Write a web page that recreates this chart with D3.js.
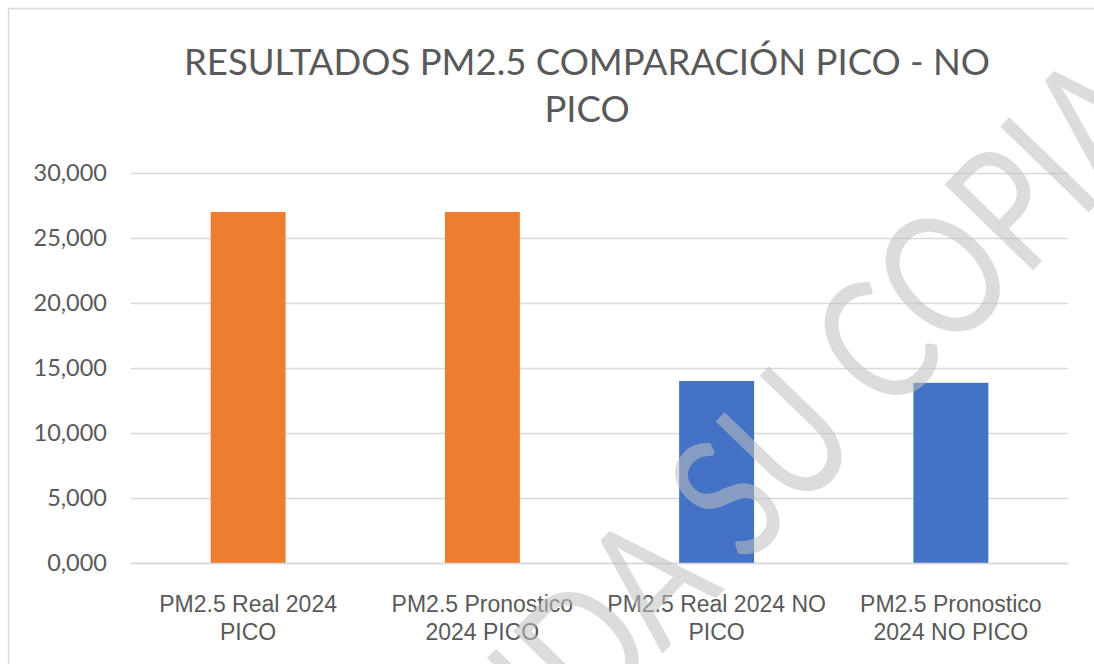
<!DOCTYPE html>
<html>
<head>
<meta charset="utf-8">
<script src="https://cdn.jsdelivr.net/npm/d3@7"></script>
<style>
  body { margin: 0; background: #fff; }
  svg { display: block; font-family: Lato, "Open Sans", sans-serif; }
</style>
</head>
<body>
<svg width="1094" height="664"></svg>
<script>
// datos
const categorias = ["PM2.5 Real 2024 PICO", "PM2.5 Pronostico 2024 PICO", "PM2.5 Real 2024 NO PICO", "PM2.5 Pronostico 2024 NO PICO"];
const etiquetas = [["PM2.5 Real 2024", "PICO"], ["PM2.5 Pronostico", "2024 PICO"], ["PM2.5 Real 2024 NO", "PICO"], ["PM2.5 Pronostico", "2024 NO PICO"]];
const valores = [27.0, 27.0, 14.0, 13.86];
const colores = ["#ED7D31", "#ED7D31", "#4472C4", "#4472C4"];
const ticksY = [0, 5, 10, 15, 20, 25, 30];
const titulo = ["RESULTADOS PM2.5 COMPARACIÓN PICO - NO", "PICO"];
const marcaAgua = "VALIDA SU COPIA";

const svg = d3.select("svg");
const margin = { top: 173, right: 26, bottom: 101, left: 131 };
const width = 1094, height = 664;
const innerWidth = width - margin.left - margin.right;
const innerHeight = height - margin.top - margin.bottom;

// formato con coma decimal
const es = d3.formatLocale({ decimal: ",", thousands: ".", grouping: [3], currency: ["$", ""] });
const fmt = es.format(".3f");

// marco
svg.append("rect")
    .attr("x", 8.5).attr("y", 8.5)
    .attr("width", 1200).attr("height", 800)
    .attr("fill", "none")
    .attr("stroke", "#d9d9d9")
    .attr("stroke-width", 1.5);

// titulo
svg.append("text")
    .attr("x", 587)
    .attr("y", 75)
    .attr("text-anchor", "middle")
    .style("font-size", "36.5px")
    .style("fill", "#595959")
    .selectAll("tspan")
    .data(titulo)
    .join("tspan")
    .attr("x", 587)
    .attr("dy", (d, i) => i === 0 ? 0 : 47)
    .text(d => d);

const x = d3.scaleBand()
    .domain(categorias)
    .range([0, innerWidth])
    .paddingInner(0.68)
    .paddingOuter(0.34);

const y = d3.scaleLinear()
    .domain([0, 30])
    .range([innerHeight, 0]);

const g = svg.append("g")
    .attr("transform", `translate(${margin.left}, ${margin.top})`);

// eje y con lineas de cuadricula
const ejeY = g.append("g")
    .call(d3.axisLeft(y).tickValues(ticksY).tickFormat(fmt).tickSize(-innerWidth).tickPadding(24));
ejeY.select(".domain").remove();
ejeY.selectAll(".tick line").attr("stroke", "#d9d9d9").attr("stroke-width", 1.5);
ejeY.selectAll(".tick text")
    .style("font-family", "Lato, 'Open Sans', sans-serif")
    .style("font-size", "23.5px")
    .style("fill", "#595959");

// barras
g.selectAll("rect.barra")
    .data(valores)
    .join("rect")
    .attr("class", "barra")
    .attr("x", (d, i) => x(categorias[i]))
    .attr("y", d => y(d))
    .attr("width", x.bandwidth())
    .attr("height", d => innerHeight - y(d))
    .attr("fill", (d, i) => colores[i]);

// eje x
const ejeX = g.append("g")
    .attr("transform", `translate(0, ${innerHeight})`)
    .call(d3.axisBottom(x).tickSize(0).tickFormat(""));
ejeX.select(".domain").attr("stroke", "#d9d9d9").attr("stroke-width", 1.5);

categorias.forEach((c, i) => {
  const t = ejeX.append("text")
      .attr("text-anchor", "middle")
      .style("font-size", "23px")
      .style("fill", "#595959");
  etiquetas[i].forEach((linea, j) => {
    t.append("tspan")
        .attr("x", x(c) + x.bandwidth() / 2)
        .attr("y", 49 + j * 28)
        .text(linea);
  });
});

// marca de agua
svg.append("text")
    .attr("transform", "translate(736, 482) rotate(-46) scale(0.78, 1)")
    .attr("text-anchor", "middle")
    .attr("dominant-baseline", "central")
    .style("font-size", "172px")
    .style("fill", "#bfbfbf")
    .style("fill-opacity", 0.55)
    .text(marcaAgua);
</script>
</body>
</html>
